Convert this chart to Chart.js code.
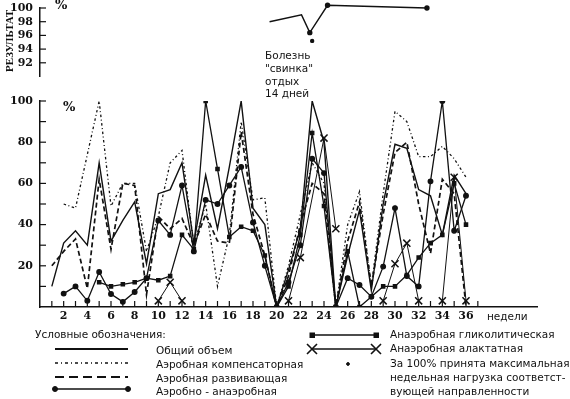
<!DOCTYPE html>
<html>
<head>
<meta charset="utf-8">
<script src="https://cdn.jsdelivr.net/npm/chart.js@4/dist/chart.umd.min.js"></script>
<style>
  html, body { margin: 0; padding: 0; background: #fff; }
  #page { position: relative; width: 570px; height: 399px; overflow: hidden; }
  canvas { position: absolute; left: 0; top: 0; }
  .txt { position: absolute; font-family: "DejaVu Sans", sans-serif; font-size: 10.5px; color: #111; white-space: nowrap; line-height: 13px; }
  .pct { position: absolute; font-family: "DejaVu Serif", serif; font-weight: bold; font-size: 13px; color: #111; }
  #vlabel { position: absolute; left: 9px; top: 41px; transform: translate(-50%, -50%) rotate(-90deg);
            font-family: "Liberation Serif", serif; font-weight: bold; font-size: 11px; color: #111; white-space: nowrap; }
  svg { position: absolute; left: 0; top: 0; }
</style>
</head>
<body>
<div id="page">
  <canvas id="topChart" width="570" height="399"></canvas>
  <canvas id="mainChart" width="570" height="399"></canvas>

  <div id="vlabel">РЕЗУЛЬТАТ</div>
  <div class="pct" style="left:55px; top:-3px;">%</div>
  <div class="pct" style="left:63px; top:99px;">%</div>

  <div class="txt" style="left:265px; top:49px;">Болезнь</div>
  <div class="txt" style="left:265px; top:62px;">"свинка"</div>
  <div class="txt" style="left:265px; top:75px;">отдых</div>
  <div class="txt" style="left:265px; top:87px;">14 дней</div>

  <div class="txt" style="left:487px; top:310px;">недели</div>

  <div class="txt" style="left:35px; top:328px;">Условные обозначения:</div>
  <div class="txt" style="left:156px; top:344px;">Общий объем</div>
  <div class="txt" style="left:156px; top:358px;">Аэробная компенсаторная</div>
  <div class="txt" style="left:156px; top:372px;">Аэробная развивающая</div>
  <div class="txt" style="left:156px; top:385px;">Аэробно - анаэробная</div>

  <div class="txt" style="left:390px; top:328px;">Анаэробная гликолитическая</div>
  <div class="txt" style="left:390px; top:342px;">Анаэробная алактатная</div>
  <div class="txt" style="left:390px; top:357px;">За 100% принята максимальная</div>
  <div class="txt" style="left:390px; top:371px;">недельная нагрузка соответст-</div>
  <div class="txt" style="left:390px; top:385px;">вующей направленности</div>

  <!-- legend line samples -->
  <svg width="570" height="399">
    <g stroke="#111" fill="#111">
      <line x1="55" y1="349" x2="128" y2="349" stroke-width="2"/>
      <line x1="55" y1="363" x2="128" y2="363" stroke-width="1.4" stroke-dasharray="3 3 1 3"/>
      <line x1="55" y1="377" x2="128" y2="377" stroke-width="2" stroke-dasharray="9 5"/>
      <line x1="55" y1="389" x2="128" y2="389" stroke-width="1.5"/>
      <circle cx="55" cy="389" r="2.5"/><circle cx="128" cy="389" r="2.5"/>

      <line x1="312" y1="335" x2="376" y2="335" stroke-width="1.5"/>
      <rect x="310" y="333" width="4.5" height="4.5"/><rect x="374" y="333" width="4.5" height="4.5"/>
      <line x1="312" y1="349" x2="376" y2="349" stroke-width="1.3"/>
      <path d="M307 344 L317 354 M317 344 L307 354 M371 344 L381 354 M381 344 L371 354" stroke-width="1.6" fill="none"/>
      <circle cx="348" cy="364" r="1.4"/>
    </g>
  </svg>
</div>

<script>
// weeks 1..36 for the lower chart
const weeks = [1,2,3,4,5,6,7,8,9,10,11,12,13,14,15,16,17,18,19,20,21,22,23,24,25,26,27,28,29,30,31,32,33,34,35,36];

// Общий объем
const obshchiy = [10,31,37,30,70,32,42,51,21,55,57,70,31,64,38,68,100,48,40,0,18,38,100,80,0,25,47,8,50,79,77,57,54,35,64,55];
// Аэробная компенсаторная
const kompens = [null,50,48,74,100,49,60,60,27,44,70,76,30,50,10,35,90,52,53,0,20,45,70,60,0,40,56,10,55,95,90,73,73,78,72,63];
// Аэробная развивающая
const razviv = [20,27,33,9,62,28,60,59,6,44,38,43,30,45,32,31,85,45,25,0,15,40,60,55,0,32,51,10,45,75,80,50,26,62,55,0];
// Аэробно - анаэробная
const aeroAnaer = [null,6.5,10,3,17,6.3,2.5,7.3,14,42,35,59,27,52,50,59,68,41,20,0,12,30,72,65,0,14,10.7,5,19.6,48,15,10,61,100,37,54];
// Анаэробная гликолитическая
const glikol = [null,null,null,null,12,10,11,12,14,13,15,35,28,100,67,34,39,37,25,0,10,35,84.5,49,0,27,0,5,10,10,15.5,24,31,35,60,40];
// Анаэробная алактатная (null = break in the line)
const alaktWeeks = [10,11,12,13,21,22,24,25,26,29,30,31,32,33,34,35,36];
const alaktValues = [3,12,3,null,3,24,82,38,null,3,21,31,3,null,3,63,3];

// upper chart: РЕЗУЛЬТАТ, %
const resultWeeks = [19.4,22.1,22.8,24.3,32.7];
const resultValues = [98.0,99.0,96.4,100.4,100.0];
const maxLoadWeek = [23.0];
const maxLoadValue = [95.2];

const xTickWeeks = [1,2,3,4,5,6,7,8,9,10,11,12,13,14,15,16,17,18,19,20,21,22,23,24,25,26,27,28,29,30,31,32,33,34,35,36,37];
const yTicksMain = [0,10,20,30,40,50,60,70,80,90,100];
const yTicksTop = [90,92,94,96,98,100];

const INK = '#111';
const tickFont = { family: 'DejaVu Serif', weight: 'bold', size: 11 };

function pts(xs, ys) {
    return xs.map((x, i) => ({ x: x, y: ys[i] }));
}

// small tick marks pointing into the plot, like the printed figure
const inwardTicks = {
    id: 'inwardTicks',
    afterDatasetsDraw(chart) {
        const { ctx, chartArea } = chart;
        ctx.save();
        ctx.strokeStyle = INK;
        ctx.lineWidth = 1.2;
        Object.values(chart.scales).forEach(scale => {
            if (!scale.options.display) return;
            scale.ticks.forEach(t => {
                if (t.value === scale.min) return;
                const p = scale.getPixelForValue(t.value);
                ctx.beginPath();
                if (scale.isHorizontal()) {
                    ctx.moveTo(p, chartArea.bottom);
                    ctx.lineTo(p, chartArea.bottom - 6);
                } else {
                    ctx.moveTo(chartArea.left, p);
                    ctx.lineTo(chartArea.left + 6, p);
                }
                ctx.stroke();
            });
        });
        ctx.restore();
    }
};

function lineSet(data, extra) {
    return Object.assign({
        data: data,
        borderColor: INK,
        backgroundColor: INK,
        borderWidth: 1.4,
        pointRadius: 0,
        tension: 0,
        spanGaps: false,
        fill: false
    }, extra);
}

// fixed axis width, and no extra room reserved for half labels
function fixY(s) {
    s.width = 40;
    s.paddingTop = 0;
    s.paddingBottom = 0;
}

// --- lower chart ---
new Chart(document.getElementById('mainChart'), {
    type: 'line',
    data: {
        datasets: [
            lineSet(pts(weeks, kompens), { borderWidth: 1.3, borderDash: [2.5, 2.5, 1, 2.5] }),
            lineSet(pts(weeks, razviv), { borderWidth: 1.7, borderDash: [5, 3] }),
            lineSet(pts(weeks, obshchiy), { borderWidth: 1.4 }),
            lineSet(pts(weeks, aeroAnaer), { borderWidth: 1.3, pointRadius: 2.3, pointStyle: 'circle' }),
            lineSet(pts(weeks, glikol), { borderWidth: 1.3, pointRadius: 2.3, pointStyle: 'rect' }),
            lineSet(pts(alaktWeeks, alaktValues), { borderWidth: 1, pointRadius: 5, pointStyle: 'crossRot', pointBorderWidth: 1.5 })
        ]
    },
    options: {
        responsive: false,
        animation: false,
        events: [],
        layout: { padding: { left: 0, top: 101, right: 33, bottom: 72 } },
        plugins: { legend: { display: false }, tooltip: { enabled: false } },
        scales: {
            x: {
                type: 'linear', min: 0, max: 42,
                afterBuildTicks: s => { s.ticks = xTickWeeks.map(v => ({ value: v })); },
                afterFit: s => { s.height = 20; },
                grid: { display: true, drawOnChartArea: false, drawTicks: false },
                border: { display: true, color: INK, width: 1.5 },
                ticks: {
                    autoSkip: false, maxRotation: 0, padding: 3, color: INK, font: tickFont,
                    callback: v => (v % 2 === 0 && v <= 36) ? String(v) : ''
                }
            },
            y: {
                min: 0, max: 100,
                afterBuildTicks: s => { s.ticks = yTicksMain.map(v => ({ value: v })); },
                afterFit: fixY,
                grid: { display: true, drawOnChartArea: false, drawTicks: false },
                border: { display: true, color: INK, width: 1.5 },
                ticks: {
                    autoSkip: false, padding: 7, color: INK, font: tickFont,
                    callback: v => (v > 0 && v % 20 === 0) ? String(v) : ''
                }
            }
        }
    },
    plugins: [inwardTicks]
});

// --- upper chart ---
new Chart(document.getElementById('topChart'), {
    type: 'line',
    data: {
        datasets: [
            lineSet(pts(resultWeeks, resultValues), {
                borderWidth: 1.4, clip: false,
                pointRadius: [0, 0, 2, 2, 2]
            }),
            lineSet(pts(maxLoadWeek, maxLoadValue), { showLine: false, pointRadius: 1.5, clip: false })
        ]
    },
    options: {
        responsive: false,
        animation: false,
        events: [],
        layout: { padding: { left: 0, top: 8, right: 33, bottom: 322.5 } },
        plugins: { legend: { display: false }, tooltip: { enabled: false } },
        scales: {
            x: { type: 'linear', min: 0, max: 42, display: false },
            y: {
                min: 90, max: 100,
                afterBuildTicks: s => { s.ticks = yTicksTop.map(v => ({ value: v })); },
                afterFit: fixY,
                grid: { display: true, drawOnChartArea: false, drawTicks: false },
                border: { display: true, color: INK, width: 1.5 },
                ticks: {
                    autoSkip: false, padding: 7, color: INK, font: tickFont,
                    callback: v => v > 90 ? String(v) : ''
                }
            }
        }
    },
    plugins: [inwardTicks]
});
</script>
</body>
</html>
